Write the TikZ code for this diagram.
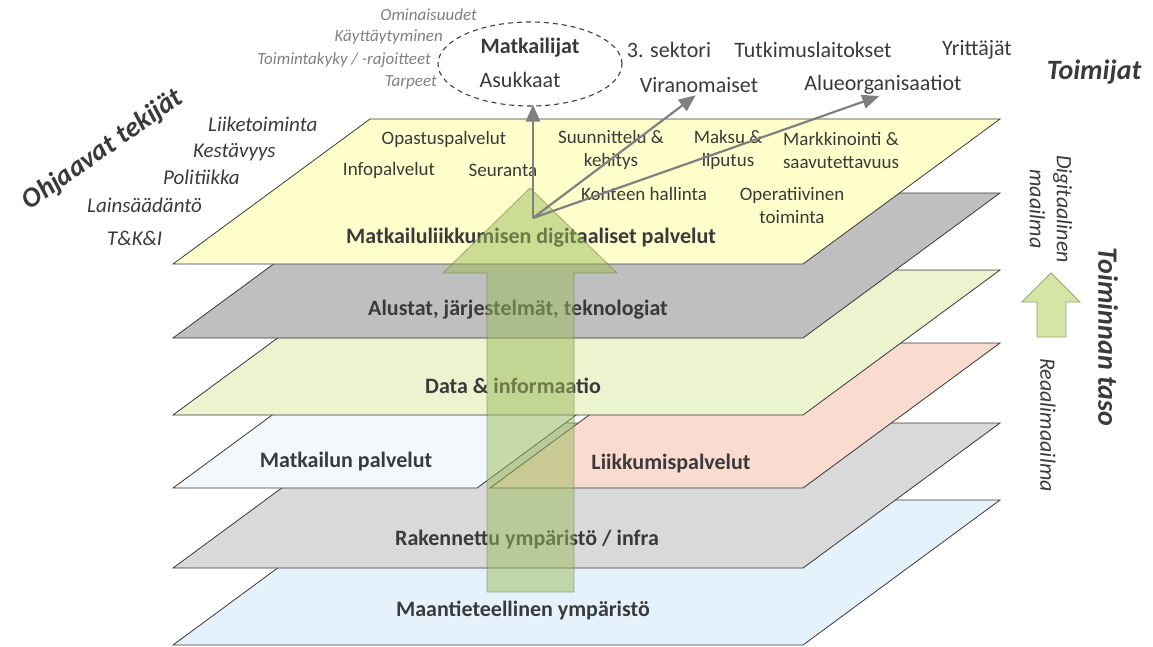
\documentclass[tikz,border=0pt]{standalone}
\usepackage{fontspec}
\setmainfont{Carlito}
\usetikzlibrary{arrows.meta,shapes.geometric}
\definecolor{txt}{HTML}{3A3A3A}
\definecolor{graytxt}{HTML}{808080}
\definecolor{cyellow}{HTML}{FFFFCC}
\definecolor{cgray}{HTML}{BFBFBF}
\definecolor{cgreen}{HTML}{EBF3CF}
\definecolor{cpale}{HTML}{F3F8FD}
\definecolor{csalmon}{HTML}{F9DBCF}
\definecolor{cgray2}{HTML}{D9D9D9}
\definecolor{cblue}{HTML}{E6F2FB}
\definecolor{arrfill}{HTML}{9BBB59}
\definecolor{arrdraw}{HTML}{5E7A30}
\definecolor{smallfill}{HTML}{D6E4A6}
\definecolor{smalldraw}{HTML}{97AA6E}
\definecolor{linegray}{HTML}{808080}
\tikzset{
  layer/.style={draw=black!78, line width=0.8pt},
  lbl/.style={font=\fontsize{22}{24}\selectfont\bfseries, text=txt, inner sep=0pt},
  sml/.style={font=\fontsize{19}{23}\selectfont, text=txt, align=center, inner sep=0pt},
  act/.style={font=\fontsize{22}{24}\selectfont, text=txt, inner sep=0pt},
  gri/.style={font=\fontsize{17}{20}\selectfont\itshape, text=graytxt, anchor=east, inner sep=0pt},
  drv/.style={font=\fontsize{21}{24}\selectfont\itshape, text=txt, anchor=west, inner sep=0pt},
  head/.style={font=\fontsize{28}{30}\selectfont\bfseries\itshape, text=txt, inner sep=0pt},
  side/.style={font=\fontsize{22}{27}\selectfont\itshape, text=txt, align=center, inner sep=0pt},
  garrow/.style={draw=linegray, line width=2.2pt, -{Triangle[width=14pt,length=17pt]}},
}
\begin{document}
\begin{tikzpicture}[x=1pt,y=-1pt]
\useasboundingbox (0,0) rectangle (1153,646);
% layers (bottom to top)
\path[layer, fill=cblue]   (173,645) -- (803,645) -- (1000,500) -- (370,500) -- cycle;
\path[layer, fill=cgray2]  (173,568) -- (803,568) -- (1000,423) -- (370,423) -- cycle;
\path[layer, fill=cpale]   (173,488) -- (477,488) -- (674,343) -- (370,343) -- cycle;
\path[layer, fill=csalmon] (490,488) -- (803,488) -- (1000,343) -- (687,343) -- cycle;
\path[layer, fill=cgreen]  (173,415) -- (803,415) -- (1000,270) -- (370,270) -- cycle;
\path[layer, fill=cgray]   (173,338) -- (803,338) -- (1000,193) -- (370,193) -- cycle;
\path[layer, fill=cyellow] (173,264) -- (803,264) -- (1000,119) -- (370,119) -- cycle;

% layer labels
\node[lbl] (l1) at (531,238) {Matkailuliikkumisen digitaaliset palvelut};
\node[lbl] (l2) at (518,310) {Alustat, järjestelmät, teknologiat};
\node[lbl] (l3) at (513,386) {Data \& informaatio};
\node[lbl] (l4a) at (346,462) {Matkailun palvelut};
\node[lbl] (l4b) at (671,464) {Liikkumispalvelut};
\node[lbl] (l5) at (527,540) {Rakennettu ympäristö / infra};
\node[lbl] (l6) at (523,610) {Maantieteellinen ympäristö};

% digital service items
\node[sml] (s1) at (444,139) {Opastuspalvelut};
\node[sml] (s2) at (389,170) {Infopalvelut};
\node[sml] (s3) at (503,170) {Seuranta};
\node[sml] (s4) at (611,150) {Suunnittelu \&\\kehitys};
\node[sml] (s5) at (728,150) {Maksu \&\\liputus};
\node[sml] (s6) at (841,150) {Markkinointi \&\\saavutettavuus};
\node[sml] (s7) at (644,194) {Kohteen hallinta};
\node[sml] (s8) at (792,205) {Operatiivinen\\toiminta};

% big green arrow
\path[fill=arrfill, fill opacity=0.5, draw=arrdraw, draw opacity=0.55, line width=0.8pt]
  (487,592) -- (574,592) -- (574,273) -- (617,273) -- (530,188) -- (443,273) -- (487,273) -- cycle;

% actors
\node[draw=black!75, dashed, dash pattern=on 5pt off 4pt, line width=1.1pt, ellipse,
      minimum width=184pt, minimum height=84pt, inner sep=0pt] (ell) at (530,64) {};
\node[act, font=\fontsize{22}{24}\selectfont\bfseries] (matk) at (530,48) {Matkailijat};
\node[act] (asuk) at (520,80) {Asukkaat};
\node[gri] (g1) at (477,15) {Ominaisuudet};
\node[gri] (g2) at (443,37) {Käyttäytyminen};
\node[gri] (g3) at (431,60) {Toimintakyky / -rajoitteet};
\node[gri] (g4) at (437,82) {Tarpeet};
\node[act] (sek) at (669,50) {3. sektori};
\node[act] (tutk) at (813,50) {Tutkimuslaitokset};
\node[act] (yrit) at (977,50) {Yrittäjät};
\node[act] (viran) at (699,85) {Viranomaiset};
\node[act] (alue) at (883,85) {Alueorganisaatiot};
\node[head] (toim) at (1094,72) {Toimijat};

% gray arrows
\coordinate (o) at (533,218);
\draw[garrow, shorten >=-2pt] (o) -- (o |- ell.south);
\draw[garrow, shorten >=4pt] (o) -- (viran.south);
\draw[garrow, shorten >=4pt] (o) -- (alue.south);

% steering factors
\node[head, rotate=35] (ohj) at (103,150) {Ohjaavat tekijät};
\node[drv] (d1) at (208,124) {Liiketoiminta};
\node[drv] (d2) at (193,152) {Kestävyys};
\node[drv] (d3) at (163,177) {Politiikka};
\node[drv] (d4) at (87,205) {Lainsäädäntö};
\node[drv] (d5) at (107,238) {T\&K\&I};

% right side
\node[side, rotate=-90] (dig) at (1051,209) {Digitaalinen\\maailma};
\node[side, rotate=-90] (rea) at (1048,425) {Reaalimaailma};
\node[head, rotate=-90] (tt) at (1108,337) {Toiminnan taso};
\path[fill=smallfill, draw=smalldraw, line width=0.9pt]
  (1037,337) -- (1066,337) -- (1066,302) -- (1080,302) -- (1051,273) -- (1022,302) -- (1037,302) -- cycle;
\end{tikzpicture}
\end{document}
